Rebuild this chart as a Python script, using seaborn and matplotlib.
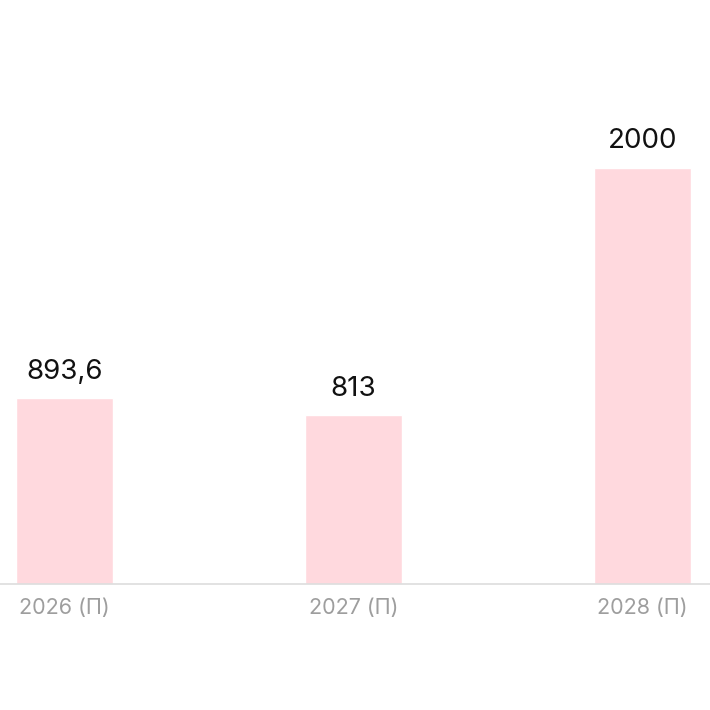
import matplotlib
matplotlib.use("Agg")
import matplotlib.pyplot as plt
import seaborn as sns
import pandas as pd

# chart data
years = ["2026 (П)", "2027 (П)", "2028 (П)"]
values = [893.6, 813, 2000]
labels = ["893,6", "813", "2000"]

df = pd.DataFrame({"year": years, "value": values})

sns.set_theme(style="white")
plt.rcParams["font.family"] = ["Inter", "DejaVu Sans"]

fig = plt.figure(figsize=(7.1, 7.1), dpi=100)
ax = fig.add_axes([0, 0.1775, 1, 0.8225])

sns.barplot(data=df, x="year", y="value", color="#FFD9DE", saturation=1,
            width=0.335, ax=ax)

# value labels above bars
for i, v in enumerate(values):
    ax.annotate(labels[i], (i, v), xytext=(0, 9.5), textcoords="offset points",
                ha="center", va="bottom", fontsize=20, color="#111111")

ax.set_xlim(-0.223, 2.234)
ax.set_ylim(0, 2805)
ax.set_xlabel("")
ax.set_ylabel("")
ax.set_yticks([])
ax.tick_params(axis="x", length=0, pad=10, labelsize=15.5, labelcolor="#9e9e9e")
for s in ["top", "right", "left", "bottom"]:
    ax.spines[s].set_visible(False)
# baseline across the whole width
ax.axhline(0, color="#dddddd", linewidth=1.2, clip_on=False, zorder=3)

fig.savefig("out.png", dpi=100)
